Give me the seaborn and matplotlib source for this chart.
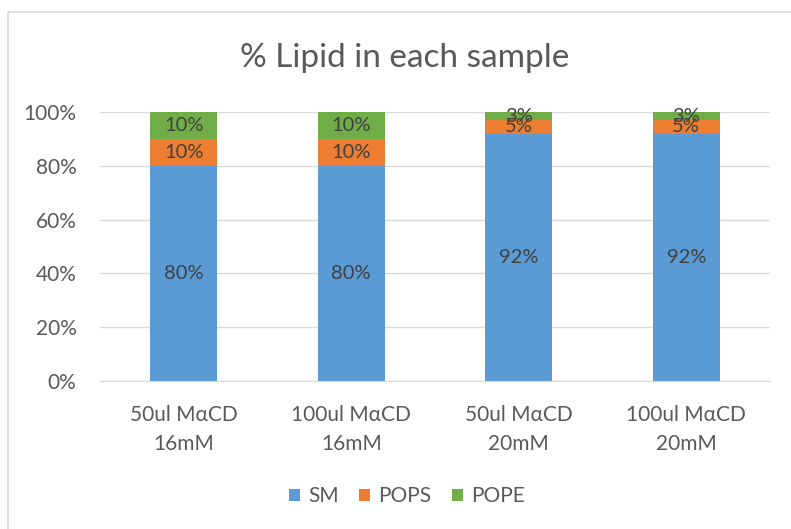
import matplotlib
matplotlib.use("Agg")
import matplotlib.pyplot as plt
from matplotlib.lines import Line2D
from matplotlib.patches import Patch
import seaborn as sns
import numpy as np

samples = ["50ul M\u03b1CD\n16mM", "100ul M\u03b1CD\n16mM", "50ul M\u03b1CD\n20mM", "100ul M\u03b1CD\n20mM"]
series = ["SM", "POPS", "POPE"]
sm = [80, 80, 92, 92]
pops = [10, 10, 5, 5]
pope = [10, 10, 3, 3]
colors = ["#5B9BD5", "#ED7D31", "#70AD47"]

sns.set_style("white")
plt.rcParams["font.family"] = ["Lato", "DejaVu Sans"]

fig = plt.figure(figsize=(7.91, 5.29), dpi=100)
ax = fig.add_axes([100 / 791, 1 - 381 / 529, 670 / 791, 269 / 529])

layers = [np.array(sm), np.array(pops), np.array(pope)]
cum = np.cumsum(layers, axis=0) / 100.0

# stacked: draw the tallest cumulative first
for i in reversed(range(3)):
    sns.barplot(x=samples, y=cum[i], color=colors[i], width=0.4, ax=ax,
                saturation=1, edgecolor="none")

for i in range(3):
    bottom = cum[i - 1] if i > 0 else np.zeros(4)
    for j in range(4):
        mid = (bottom[j] + cum[i][j]) / 2
        ax.text(j, mid, f"{layers[i][j]}%", ha="center", va="center",
                fontsize=14.5, color="#404040")

ax.set_xlim(-0.5, 3.5)
ax.set_ylim(0, 1)
ax.set_yticks(np.arange(0, 1.01, 0.2))
ax.set_yticklabels([f"{int(v * 100)}%" for v in np.arange(0, 1.01, 0.2)])
ax.yaxis.grid(True, color="#D9D9D9", linewidth=1)
ax.set_axisbelow(True)
for s in ["top", "right", "left"]:
    ax.spines[s].set_visible(False)
ax.spines["bottom"].set_color("#D9D9D9")
ax.tick_params(axis="both", length=0, labelsize=15, colors="#595959")
ax.tick_params(axis="y", pad=17)
ax.tick_params(axis="x", pad=17)
for lab in ax.get_xticklabels():
    lab.set_linespacing(1.6)
ax.set_xlabel("")
ax.set_ylabel("")

fig.text(405 / 791, 1 - 58 / 529, "% Lipid in each sample", ha="center", va="center",
         fontsize=24, color="#595959")

handles = [Patch(facecolor=c, edgecolor="none") for c in colors]
fig.legend(handles, series, loc="center", bbox_to_anchor=(407 / 791, 1 - 496 / 529),
           ncol=3, frameon=False, fontsize=15, handlelength=0.5, handleheight=0.5,
           handletextpad=0.4, columnspacing=1.0, labelcolor="#595959")

# chart frame
fig.add_artist(Line2D([8 / 791, 8 / 791], [0, 1 - 12 / 529], color="#D9D9D9", lw=1.2))
fig.add_artist(Line2D([8 / 791, 1], [1 - 12 / 529, 1 - 12 / 529], color="#D9D9D9", lw=1.2))

fig.savefig("out.png", dpi=100)
